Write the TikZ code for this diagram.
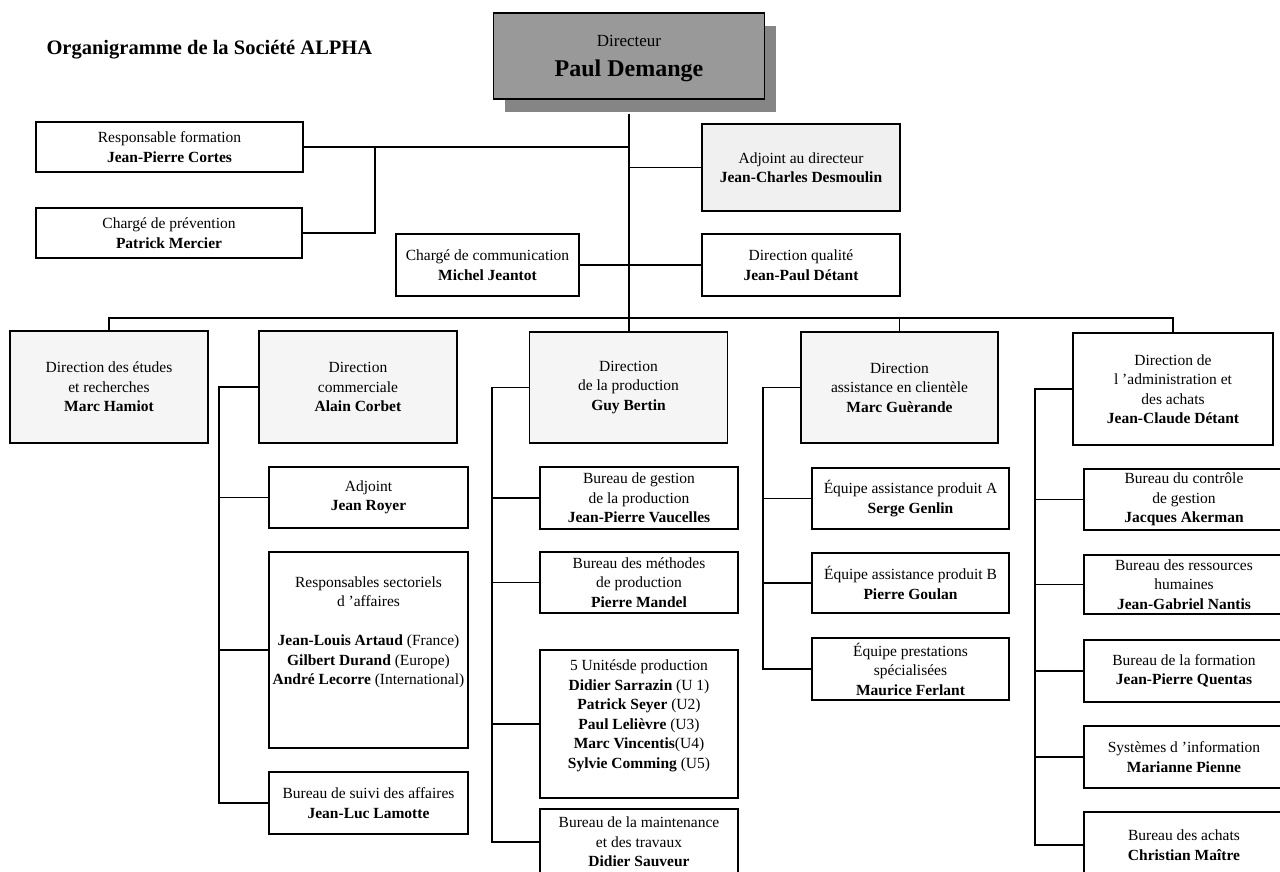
\documentclass[tikz,border=0pt]{standalone}
\usepackage{fontspec}
\setmainfont{Liberation Serif}
\usetikzlibrary{shadows}
\tikzset{
	orgbox/.style={draw, line width=1.4pt, align=center, inner xsep=2pt, inner ysep=1pt, font=\fontsize{15.5}{19.5}\selectfont},
	dotbox/.style={orgbox, fill=black!4},
	link/.style={line width=1.1pt},
}

\begin{document}
\begin{tikzpicture}[x=1pt, y=-1pt]
			%%%%% START %%%%%
			\useasboundingbox (0,0) rectangle (1280,871);
			
			\node[anchor=west, font=\fontsize{20.5}{24}\selectfont\bfseries] (title) at (43,50) {Organigramme de la Société ALPHA};
			
			\node[orgbox, fill=black!40, minimum width=271pt, minimum height=86pt, text depth=0pt, font=\fontsize{17}{30}\selectfont, drop shadow={shadow xshift=11pt, shadow yshift=-13pt, fill=black!48, opacity=1}] (dir) at (629,56) {Directeur\\ {\fontsize{24}{30}\selectfont\bfseries Paul Demange}};
			
			\node[orgbox, minimum width=267pt, minimum height=50pt] (formation) at (169.5,147) {Responsable formation\\ \textbf{Jean-Pierre Cortes}};
			\node[orgbox, minimum width=266pt, minimum height=50pt] (prevention) at (169,233) {Chargé de prévention\\ \textbf{Patrick Mercier}};
			\node[orgbox, minimum width=183pt, minimum height=62pt] (communication) at (487.5,265) {Chargé de communication\\ \textbf{Michel Jeantot}};
			\node[orgbox, fill=black!6, minimum width=198pt, minimum height=87pt] (adjoint) at (801,167.5) {Adjoint au directeur\\ \textbf{Jean-Charles Desmoulin}};
			\node[orgbox, minimum width=198pt, minimum height=62pt] (qualite) at (801,265) {Direction qualité\\ \textbf{Jean-Paul Détant}};
			
			% directions
			\node[dotbox, minimum width=198pt, minimum height=112pt] (hamiot) at (109,387) {Direction des études\\ et recherches\\ \textbf{Marc Hamiot}};
			\node[dotbox, minimum width=198pt, minimum height=112pt] (corbet) at (358,387) {Direction\\ commerciale\\ \textbf{Alain Corbet}};
			\node[dotbox, minimum width=198pt, minimum height=111pt] (production) at (628.5,387.5) {Direction\\ de la production\\ \textbf{Guy Bertin}};
			\node[dotbox, minimum width=197pt, minimum height=111pt] (guerande) at (899.5,387.5) {Direction\\ assistance en clientèle\\ \textbf{Marc Guèrande}};
			\node[orgbox, minimum width=200pt, minimum height=112pt] (admin) at (1173,389) {Direction de\\ l 'administration et\\ des achats\\ \textbf{Jean-Claude Détant}};
			
			% direction commerciale
			\node[orgbox, minimum width=199pt, minimum height=61pt] (royer) at (368.5,497.5) {Adjoint\\ \textbf{Jean Royer}};
			\node[orgbox, minimum width=199pt, minimum height=196pt] (sectoriels) at (368.5,650) {Responsables sectoriels\\ d 'affaires\\ ~\\ \textbf{Jean-Louis Artaud} (France)\\ \textbf{Gilbert Durand} (Europe)\\ \textbf{André Lecorre} (International)\\ ~\\ ~};
			\node[orgbox, minimum width=199pt, minimum height=62pt] (suivi) at (368.5,803) {Bureau de suivi des affaires\\ \textbf{Jean-Luc Lamotte}};
			
			% production
			\node[orgbox, minimum width=198pt, minimum height=62pt] (gestion) at (639,498) {Bureau de gestion\\ de la production\\ \textbf{Jean-Pierre Vaucelles}};
			\node[orgbox, minimum width=198pt, minimum height=61pt] (methodes) at (639,582.5) {Bureau des méthodes\\ de production\\ \textbf{Pierre Mandel}};
			\node[orgbox, minimum width=198pt, minimum height=148pt] (unites) at (639,724) {5 Unitésde production\\ \textbf{Didier Sarrazin} (U 1)\\ \textbf{Patrick Seyer} (U2)\\ \textbf{Paul Lelièvre} (U3)\\ \textbf{Marc Vincentis}(U4)\\ \textbf{Sylvie Comming} (U5)\\ ~};
			\node[orgbox, minimum width=198pt, minimum height=66pt] (maintenance) at (639,842) {Bureau de la maintenance\\ et des travaux\\ \textbf{Didier Sauveur}};
			
			% assistance en clientele
			\node[orgbox, minimum width=197pt, minimum height=61pt] (equipeA) at (910.5,498.5) {Équipe assistance produit A\\ \textbf{Serge Genlin}};
			\node[orgbox, minimum width=197pt, minimum height=60pt] (equipeB) at (910.5,583) {Équipe assistance produit B\\ \textbf{Pierre Goulan}};
			\node[orgbox, minimum width=197pt, minimum height=62pt] (prestations) at (910.5,669) {Équipe prestations\\ spécialisées\\ \textbf{Maurice Ferlant}};
			
			% administration
			\node[orgbox, minimum width=200pt, minimum height=61pt] (controle) at (1184,499.5) {Bureau du contrôle\\ de gestion\\ \textbf{Jacques Akerman}};
			\node[orgbox, minimum width=200pt, minimum height=59pt] (rh) at (1184,584.5) {Bureau des ressources\\ humaines\\ \textbf{Jean-Gabriel Nantis}};
			\node[orgbox, minimum width=200pt, minimum height=62pt] (formbur) at (1184,671) {Bureau de la formation\\ \textbf{Jean-Pierre Quentas}};
			\node[orgbox, minimum width=200pt, minimum height=62pt] (systemes) at (1184,757) {Systèmes d 'information\\ \textbf{Marianne Pienne}};
			\node[orgbox, minimum width=200pt, minimum height=66pt] (achats) at (1184,845) {Bureau des achats\\ \textbf{Christian Maître}};
			
			% liaisons
			\coordinate (trunktop) at ([yshift=-14pt]dir.south);
			\coordinate (bus) at (628,318);
			\coordinate (prevx) at (375,0);
			\coordinate (comx) at (219,0);
			\coordinate (prodx) at (492,0);
			\coordinate (clientx) at (763,0);
			\coordinate (adminx) at (1035,0);
			
			\draw[link] (trunktop) -- (trunktop |- production.north);
			\draw[link] (formation.east) -- (formation.east -| trunktop);
			\draw[link] (prevention.east) -| (prevx |- formation.east);
			\draw[link] (adjoint.west) -- (adjoint.west -| trunktop);
			\draw[link] (communication.east) -- (qualite.west);
			
			\draw[link] (hamiot.north) -- (hamiot.north |- bus) -- (admin.north |- bus) -- (admin.north);
			\draw[link] (guerande.north) -- (guerande.north |- bus);
			
			\draw[link] (corbet.west) -- (corbet.west -| comx) -- (suivi.west -| comx) -- (suivi.west);
			\draw[link] (royer.west) -- (royer.west -| comx);
			\draw[link] (sectoriels.west) -- (sectoriels.west -| comx);
			
			\draw[link] (production.west) -- (production.west -| prodx) -- (maintenance.west -| prodx) -- (maintenance.west);
			\draw[link] (gestion.west) -- (gestion.west -| prodx);
			\draw[link] (methodes.west) -- (methodes.west -| prodx);
			\draw[link] (unites.west) -- (unites.west -| prodx);
			
			\draw[link] (guerande.west) -- (guerande.west -| clientx) -- (prestations.west -| clientx) -- (prestations.west);
			\draw[link] (equipeA.west) -- (equipeA.west -| clientx);
			\draw[link] (equipeB.west) -- (equipeB.west -| clientx);
			
			\draw[link] (admin.west) -- (admin.west -| adminx) -- (achats.west -| adminx) -- (achats.west);
			\draw[link] (controle.west) -- (controle.west -| adminx);
			\draw[link] (rh.west) -- (rh.west -| adminx);
			\draw[link] (formbur.west) -- (formbur.west -| adminx);
			\draw[link] (systemes.west) -- (systemes.west -| adminx);
			
			%%%%% END %%%%%
\end{tikzpicture}
\end{document}
